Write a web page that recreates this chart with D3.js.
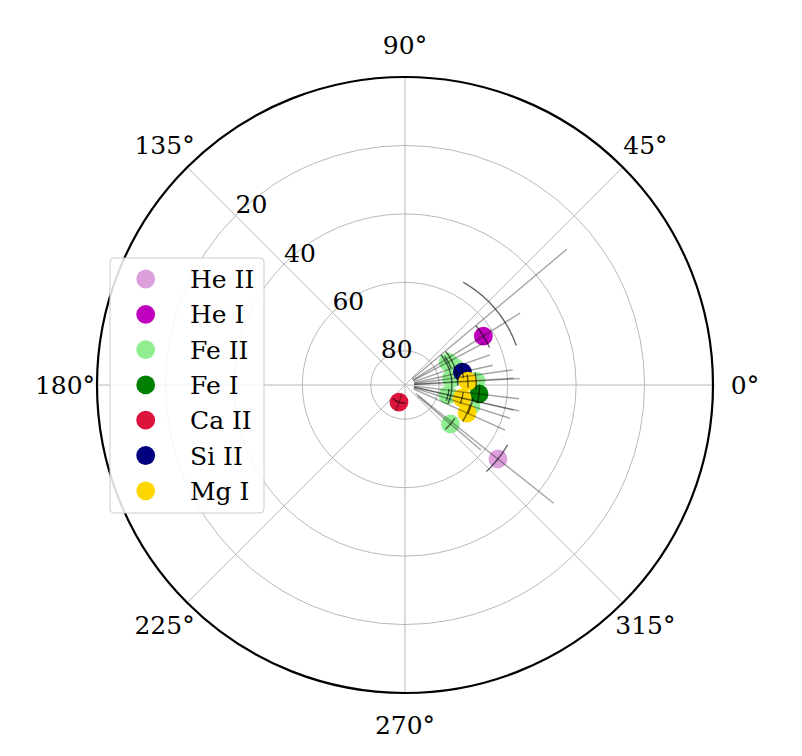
<!DOCTYPE html>
<html><head><meta charset="utf-8">
<script src="https://cdn.jsdelivr.net/npm/d3@7"></script>
<style>body{margin:0;background:#fff} svg{display:block}</style>
</head><body>
<svg id="c" width="802" height="756"></svg>
<script>
// ---------- data ----------
const species = ["He II", "He I", "Fe II", "Fe I", "Ca II", "Si II", "Mg I"];
const speciesColors = ["plum", "#bf00bf", "lightgreen", "green", "crimson", "navy", "gold"];

// one entry per point (parallel arrays)
const pointSpecies  = [0,     1,    2,    2,    2,    2,    2,    2,     2,     3,    4,     5,    6,    6,     6];
const pointTheta    = [321.5, 32.0, 28.0, 19.5, 8.0,  -13.0, 3.2, -17.6, -40.6, -6.9, 250.6, 12.7, 3.6,  -12.8, -24.3];
const pointValue    = [55.3,  63.0, 75.7, 74.6, 76.3, 77.1, 69.2, 69.8,  72.5,  68.2, 84.7,  72.8, 71.6, 72.9,  70.1];
const pointThetaErr = [8.3,   8.0,  8.0,  20.0, 32.0, 8.0,  7.0,  7.0,   7.0,   7.0,  22.0,  6.0,  6.0,  6.0,   8.0];
const pointValInner = [86.0,  87.3, 87.3, 87.3, 87.3, 87.3, 87.3, 87.3,  85.0,  87.3, 87.0,  87.3, 87.3, 87.3,  87.3];
const pointValOuter = [34.5,  50.3, 64.0, 63.7, 58.2, 57.3, 56.4, 57.8,  60.8,  56.4, 82.0,  63.7, 58.1, 55.8,  57.9];

// error bar drawn without a visible marker
const extraTheta = [40.0];
const extraValue = [55.5];
const extraThetaErr = [20.5];
const extraValInner = [87.3];
const extraValOuter = [28.3];

const radialTicks = [20, 40, 60, 80];
const angleTicks = [0, 45, 90, 135, 180, 225, 270, 315];
const angleTickLabels = ["0°", "45°", "90°", "135°", "180°", "225°", "270°", "315°"];

// ---------- layout ----------
const cx = 405, cy = 385, R = 308;
const FONT = "'DejaVu Serif', serif";
const FS = 25;
const svg = d3.select("#c");
const rScale = d3.scaleLinear().domain([90, 0]).range([0, R]);
const aScale = d3.scaleLinear().domain([0, 360]).range([0, 2 * Math.PI]);
const pos = (theta, v, rr) => {
  const a = aScale(theta), rad = rr !== undefined ? rr : rScale(v);
  return [cx + rad * Math.cos(a), cy - rad * Math.sin(a)];
};
const line = d3.line();

// grid
const grid = svg.append("g");
grid.selectAll("circle").data(radialTicks).join("circle")
  .attr("cx", cx).attr("cy", cy).attr("r", d => rScale(d))
  .attr("fill", "none").attr("stroke", "#b0b0b0").attr("stroke-width", 0.9);
grid.selectAll("path").data(angleTicks).join("path")
  .attr("d", d => line([pos(d, 90), pos(d, 0)]))
  .attr("stroke", "#b0b0b0").attr("stroke-width", 0.9);

// markers
const pts = d3.range(pointTheta.length);
svg.append("g").selectAll("circle").data(pts).join("circle")
  .attr("cx", i => pos(pointTheta[i], pointValue[i])[0])
  .attr("cy", i => pos(pointTheta[i], pointValue[i])[1])
  .attr("r", 9.4)
  .attr("fill", i => speciesColors[pointSpecies[i]]);

// error bars
const eb = svg.append("g").attr("fill", "none");
function drawErr(theta, v, te, vin, vout) {
  eb.append("path").attr("d", line([pos(theta, vin), pos(theta, vout)]))
    .attr("stroke", "#000").attr("stroke-opacity", 0.36).attr("stroke-width", 1.4);
  const ts = d3.range(theta - te, theta + te + 0.001, Math.max(0.25, te / 40));
  eb.append("path").attr("d", line(ts.map(t => pos(t, v))))
    .attr("stroke", "#000").attr("stroke-opacity", 0.6).attr("stroke-width", 1.4);
}
pts.forEach(i => drawErr(pointTheta[i], pointValue[i], pointThetaErr[i], pointValInner[i], pointValOuter[i]));
extraTheta.forEach((t, i) => drawErr(t, extraValue[i], extraThetaErr[i], extraValInner[i], extraValOuter[i]));

// outer spine
svg.append("circle").attr("cx", cx).attr("cy", cy).attr("r", R)
  .attr("fill", "none").attr("stroke", "#000").attr("stroke-width", 2.2);

// angle labels
svg.append("g").selectAll("text").data(angleTicks).join("text")
  .attr("x", d => pos(d, 0, 340)[0])
  .attr("y", d => pos(d, 0, 340)[1] + 9)
  .attr("text-anchor", "middle")
  .attr("font-family", FONT).attr("font-size", FS)
  .text((d, i) => angleTickLabels[i]);

// radial labels along 135°
svg.append("g").selectAll("text").data(radialTicks).join("text")
  .attr("x", d => pos(135, d)[0])
  .attr("y", d => pos(135, d)[1] - 2.5)
  .attr("text-anchor", "start")
  .attr("font-family", FONT).attr("font-size", FS)
  .text(d => d);

// legend
const lg = svg.append("g");
lg.append("rect").attr("x", 110).attr("y", 258).attr("width", 154).attr("height", 255)
  .attr("rx", 4).attr("fill", "#fff").attr("fill-opacity", 0.85)
  .attr("stroke", "#cccccc").attr("stroke-width", 1);
const rows = lg.selectAll("g").data(species).join("g")
  .attr("transform", (d, i) => `translate(0,${279 + i * 35.3})`);
rows.append("circle").attr("cx", 145.7).attr("cy", 0).attr("r", 9.4)
  .attr("fill", (d, i) => speciesColors[i]);
rows.append("text").attr("x", 190).attr("y", 9)
  .attr("font-family", FONT).attr("font-size", FS).text(d => d);
</script>
</body></html>
